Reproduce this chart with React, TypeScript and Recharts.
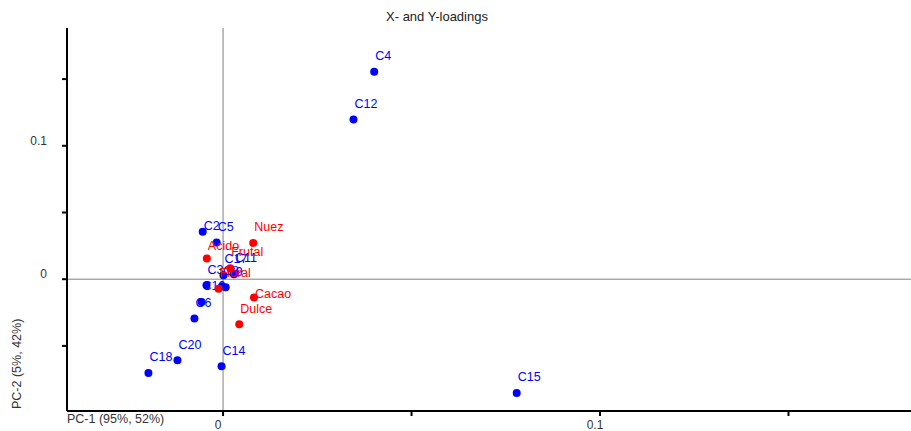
import React from 'react';
import { ScatterChart, Scatter, XAxis, YAxis, ReferenceLine } from 'recharts';

// X-loadings (blue)
const xVarNames = ['C2', 'C5', 'C4', 'C12', 'C15', 'C14', 'C20', 'C18', 'C6', 'C10', 'C3', 'C8', 'C9', 'C17', 'C11'];
const xVarPC1 = [-0.0054, -0.0017, 0.0401, 0.0346, 0.0779, -0.0004, -0.0121, -0.0198, -0.0076, -0.0057, -0.0044, -0.0003, 0.0007, 0.0001, 0.0029];
const xVarPC2 = [0.0355, 0.0275, 0.1555, 0.1198, -0.0853, -0.0653, -0.0608, -0.0703, -0.0295, -0.0170, -0.0045, -0.0053, -0.0060, 0.0030, 0.0038];

// Y-loadings (red)
const yVarNames = ['Nuez', 'Acido', 'Frutal', 'Floral', 'Cacao', 'Dulce'];
const yVarPC1 = [0.0080, -0.0043, 0.0019, -0.0012, 0.0082, 0.0043];
const yVarPC2 = [0.0272, 0.0155, 0.0083, -0.0071, -0.0137, -0.0338];

const xTicks = [0, 0.05, 0.1, 0.15];
const yTicks = [-0.05, 0, 0.05, 0.1, 0.15];
const labeledTicks = [0, 0.1];

const titleText = 'X- and Y-loadings';
const xAxisTitle = 'PC-1 (95%, 52%)';
const yAxisTitle = 'PC-2 (5%, 42%)';

const FONT = '"Liberation Sans", Arial, sans-serif';
const BLUE = '#0000ff';
const RED = '#ff0000';

// label placement nudges (rendering only), as in the reference
const labelNudge: Record<string, number> = { C2: 10, Cacao: 12, Acido: 3 };

const xData = xVarNames.map((name, i) => ({ name, x: xVarPC1[i], y: xVarPC2[i] }));
const yData = yVarNames.map((name, i) => ({ name, x: yVarPC1[i], y: yVarPC2[i] }));

const makeShape = (color: string) => (props: any) => {
  const { cx, cy, payload } = props;
  const nudge = labelNudge[payload.name] || 0;
  return (
    <g>
      <circle cx={cx} cy={cy} r={4} fill={color} />
      <text x={cx + 1} y={cy - 11.7 + nudge} fill={color} fontSize={12.5} fontFamily={FONT}>
        {payload.name}
      </text>
    </g>
  );
};

const YTick = (props: any) => {
  const { x, y, payload } = props;
  if (!labeledTicks.includes(payload.value)) return <g />;
  return (
    <text x={x - 13} y={y - 1} textAnchor="end" fill="#333" fontSize={12} fontFamily={FONT}>
      {String(payload.value)}
    </text>
  );
};

const XTick = (props: any) => {
  const { x, y, payload } = props;
  if (!labeledTicks.includes(payload.value)) return <g />;
  return (
    <text x={x - 5} y={y + 11} textAnchor="middle" fill="#333" fontSize={12} fontFamily={FONT}>
      {String(payload.value)}
    </text>
  );
};

export default function App() {
  return (
    <div style={{ position: 'absolute', left: 0, top: 0, width: 911, height: 431, background: '#fff' }}>
      <ScatterChart width={911} height={431} margin={{ top: 28, right: 0, bottom: 0, left: 0 }}>
        <XAxis
          type="number"
          dataKey="x"
          domain={[-0.0414, 0.1825]}
          ticks={xTicks}
          allowDataOverflow
          height={20}
          tickSize={5}
          tickMargin={2}
          axisLine={{ stroke: '#000', strokeWidth: 2 }}
          tickLine={{ stroke: '#000', strokeWidth: 2 }}
          tick={<XTick />}
        />
        <YAxis
          type="number"
          dataKey="y"
          domain={[-0.0988, 0.1883]}
          ticks={yTicks}
          allowDataOverflow
          width={67}
          tickSize={5}
          tickMargin={2}
          axisLine={{ stroke: '#000', strokeWidth: 2 }}
          tickLine={{ stroke: '#000', strokeWidth: 2 }}
          tick={<YTick />}
        />
        <ReferenceLine x={0} stroke="#808080" strokeWidth={1} />
        <ReferenceLine y={0} stroke="#808080" strokeWidth={1} />
        <Scatter data={xData} fill={BLUE} shape={makeShape(BLUE)} isAnimationActive={false} />
        <Scatter data={yData} fill={RED} shape={makeShape(RED)} isAnimationActive={false} />
      </ScatterChart>
      <svg width={911} height={431} style={{ position: 'absolute', left: 0, top: 0, pointerEvents: 'none' }}>
        <text x={437} y={20.5} textAnchor="middle" fill="#222" fontSize={13} fontFamily={FONT}>
          {titleText}
        </text>
        <text x={67} y={422.5} fill="#333" fontSize={12.5} fontFamily={FONT}>
          {xAxisTitle}
        </text>
        <text x={20.5} y={409} transform="rotate(-90, 20.5, 409)" fill="#333" fontSize={12.5} fontFamily={FONT}>
          {yAxisTitle}
        </text>
      </svg>
    </div>
  );
}
